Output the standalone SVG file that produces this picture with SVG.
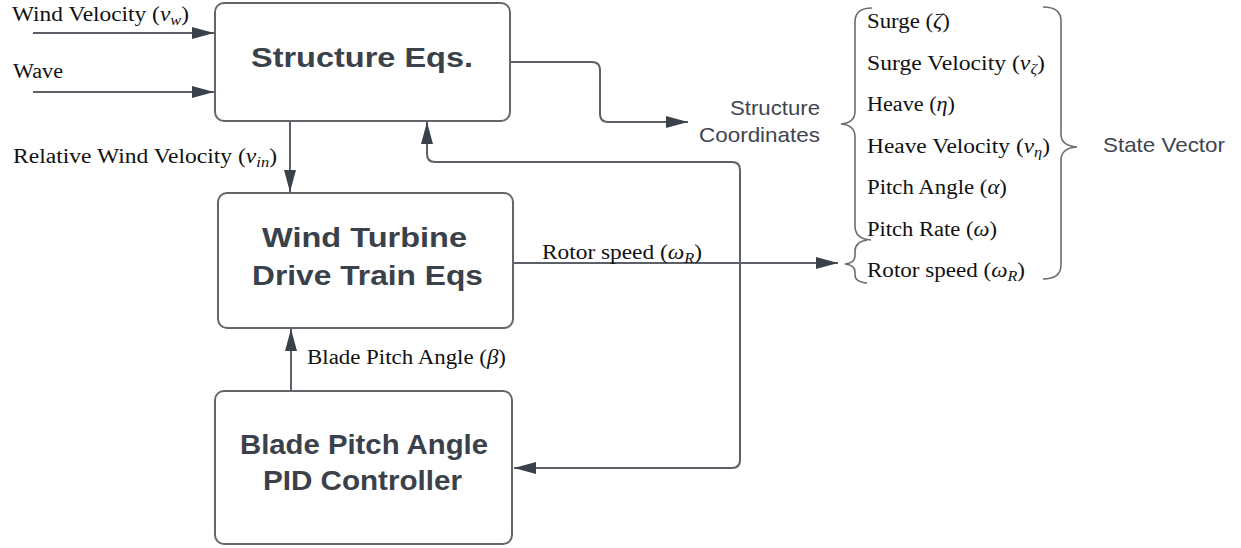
<svg xmlns="http://www.w3.org/2000/svg" width="1241" height="548" viewBox="0 0 1241 548">
<style>
.box{fill:#ffffff;stroke:#63666b;stroke-width:2}
.conn{fill:none;stroke:#5c6168;stroke-width:2}
.brace{fill:none;stroke:#6a6d72;stroke-width:1.6}
.title{font-family:"Liberation Sans",Arial,sans-serif;font-weight:bold;font-size:28px;fill:#3a414a}
.lbl{font-family:"Liberation Serif","Times New Roman",serif;font-size:20px;fill:#111111}
.sans{font-family:"Liberation Sans",Arial,sans-serif;font-size:21px;fill:#3f4550}
.it{font-style:italic}
</style>
<defs>
<marker id="ah" markerUnits="userSpaceOnUse" markerWidth="22" markerHeight="12" refX="22" refY="6" orient="auto">
<path d="M0,0 L22,6 L0,12 z" fill="#3a414a"/>
</marker>
</defs>
<rect width="1241" height="548" fill="#ffffff"/>
<g id="connectors">
<path class="conn" d="M33,33 L214,33" marker-end="url(#ah)"/>
<path class="conn" d="M33,92 L214,92" marker-end="url(#ah)"/>
<path class="conn" d="M290,121 L290,192" marker-end="url(#ah)"/>
<path class="conn" d="M510,62 L592,62 Q600,62 600,70 L600,114 Q600,122 608,122 L688,122" marker-end="url(#ah)"/>
<path class="conn" d="M513,263 L838,263" marker-end="url(#ah)"/>
<path class="conn" d="M291,391 L291,329" marker-end="url(#ah)"/>
<path class="conn" d="M740,300 L740,460 Q740,468 732,468 L514,468" marker-end="url(#ah)"/>
<path class="conn" d="M740,300 L740,170 Q740,162 732,162 L435,162 Q427,162 427,154 L427,122" marker-end="url(#ah)"/>
</g>
<g id="structure">
<rect class="box" x="215" y="3" width="295" height="118" rx="9"/>
<text class="title" x="251" y="67" textLength="222" lengthAdjust="spacingAndGlyphs">Structure Eqs.</text>
</g>
<g id="windturbine">
<rect class="box" x="218" y="193" width="295" height="135" rx="9"/>
<text class="title" x="262" y="247" textLength="205" lengthAdjust="spacingAndGlyphs">Wind Turbine</text>
<text class="title" x="252" y="285" textLength="231" lengthAdjust="spacingAndGlyphs">Drive Train Eqs</text>
</g>
<g id="pid">
<rect class="box" x="215" y="391" width="297" height="153" rx="9"/>
<text class="title" x="240" y="454" textLength="248" lengthAdjust="spacingAndGlyphs">Blade Pitch Angle</text>
<text class="title" x="263" y="490" textLength="199" lengthAdjust="spacingAndGlyphs">PID Controller</text>
</g>
<g id="labels">
<text class="lbl" x="12" y="21" textLength="177" lengthAdjust="spacingAndGlyphs">Wind Velocity (<tspan class="it">v</tspan><tspan class="it" font-size="14" dy="4">w</tspan><tspan dy="-4">)</tspan></text>
<text class="lbl" x="13" y="78" textLength="50" lengthAdjust="spacingAndGlyphs">Wave</text>
<text class="lbl" x="13" y="163" textLength="264" lengthAdjust="spacingAndGlyphs">Relative Wind Velocity (<tspan class="it">v</tspan><tspan class="it" font-size="14" dy="4">in</tspan><tspan dy="-4">)</tspan></text>
<text class="lbl" x="542" y="259" textLength="160" lengthAdjust="spacingAndGlyphs">Rotor speed (<tspan class="it">ω</tspan><tspan class="it" font-size="14" dy="4">R</tspan><tspan dy="-4">)</tspan></text>
<text class="lbl" x="307" y="364" textLength="199" lengthAdjust="spacingAndGlyphs">Blade Pitch Angle (<tspan class="it">β</tspan>)</text>
<text class="sans" x="730" y="115" textLength="90" lengthAdjust="spacingAndGlyphs">Structure</text>
<text class="sans" x="699" y="142" textLength="121" lengthAdjust="spacingAndGlyphs">Coordinates</text>
<text class="sans" x="1103" y="152" textLength="122" lengthAdjust="spacingAndGlyphs">State Vector</text>
</g>
<g id="state-list">
<text class="lbl" x="867" y="28" textLength="83" lengthAdjust="spacingAndGlyphs">Surge (<tspan class="it">ζ</tspan>)</text>
<text class="lbl" x="867" y="69.5" textLength="178" lengthAdjust="spacingAndGlyphs">Surge Velocity (<tspan class="it">v</tspan><tspan class="it" font-size="14" dy="4">ζ</tspan><tspan dy="-4">)</tspan></text>
<text class="lbl" x="867" y="111" textLength="88" lengthAdjust="spacingAndGlyphs">Heave (<tspan class="it">η</tspan>)</text>
<text class="lbl" x="867" y="152.5" textLength="183" lengthAdjust="spacingAndGlyphs">Heave Velocity (<tspan class="it">v</tspan><tspan class="it" font-size="14" dy="4">η</tspan><tspan dy="-4">)</tspan></text>
<text class="lbl" x="867" y="194" textLength="140" lengthAdjust="spacingAndGlyphs">Pitch Angle (<tspan class="it">α</tspan>)</text>
<text class="lbl" x="867" y="235.5" textLength="130" lengthAdjust="spacingAndGlyphs">Pitch Rate (<tspan class="it">ω</tspan>)</text>
<text class="lbl" x="867" y="277" textLength="158" lengthAdjust="spacingAndGlyphs">Rotor speed (<tspan class="it">ω</tspan><tspan class="it" font-size="14" dy="4">R</tspan><tspan dy="-4">)</tspan></text>
</g>
<g id="braces">
<path class="brace" d="M872,8 Q855,8 855,22 L855,111 Q855,123 841,124 Q855,125 855,137 L855,226 Q855,239 871,240"/>
<path class="brace" d="M867,240 Q855,242 855,251 L855,256 Q855,263 845,264 Q855,265 855,272 L855,275 Q855,282 867,283"/>
<path class="brace" d="M1043,7 Q1061,7 1061,21 L1061,134 Q1061,146 1077,147 Q1061,148 1061,160 L1061,265 Q1061,279 1043,279"/>
</g>
</svg>
